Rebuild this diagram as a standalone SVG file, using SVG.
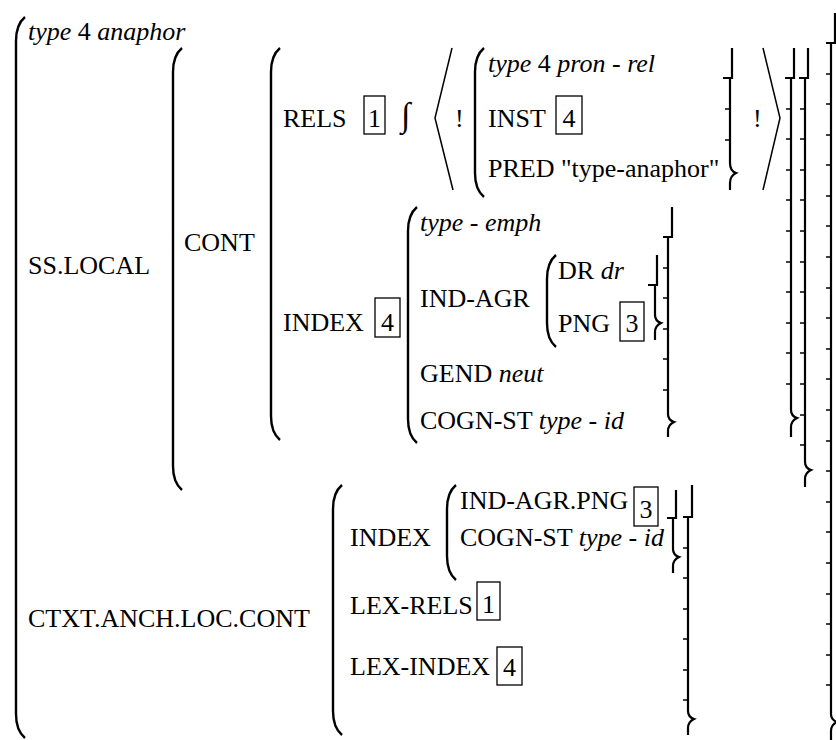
<svg xmlns="http://www.w3.org/2000/svg" width="836" height="740" viewBox="0 0 836 740">
<style>
.f{font-family:'Liberation Serif','Times New Roman',Times,'Noto Serif','DejaVu Serif',Tinos,FreeSerif,'Nimbus Roman','Nimbus Roman No9 L',Georgia,serif;font-size:26px}
.i{font-style:italic}
.m{text-anchor:middle}
.p{fill:none;stroke:#000;stroke-width:2.4;stroke-linecap:butt}
.b{fill:none;stroke:#000;stroke-width:2.2}
.t{fill:none;stroke:#000;stroke-width:1.4}
.box{fill:none;stroke:#000;stroke-width:1.3}
.ang{fill:none;stroke:#000;stroke-width:1.5}
</style>
<rect width="836" height="740" fill="#fff"/>
<g id="brackets">
  <path class="p" d="M25,17 C19,22 16,30 16,41 L16,714 C16,725 19,733 25,738"/>
  <path class="p" d="M182,48 C176,53 173,61 173,72 L173,466 C173,477 176,485 182,490"/>
  <path class="p" d="M280,48 C274,53 271,61 271,72 L271,416 C271,427 274,435 280,440"/>
  <path class="p" d="M484,48 C478,53 475,61 475,72 L475,173 C475,184 478,192 484,197"/>
  <path class="p" d="M417,207 C411,212 408,220 408,231 L408,419 C408,430 411,438 417,443"/>
  <path class="p" d="M556,255 C550,260 547,268 547,279 L547,323 C547,334 550,342 556,347"/>
  <path class="p" d="M342,485 C336,490 333,498 333,509 L333,711 C333,722 336,730 342,735"/>
  <path class="p" d="M456,485 C450,490 447,498 447,509 L447,556 C447,567 450,575 456,580"/>
  <path class="ang" d="M452,48 L435,118 L453,190"/>
  <path class="ang" d="M763,48 L780,118 L763,190"/>
  <path class="b" d="M732,48 L732,78 L723,78 M730,78 L730,163 Q730,171 736,173 Q730,176 730,183 L730,190"/>
  <path class="t" d="M725,109 H730 M725,140 H730"/>
  <path class="b" d="M794,48 L794,78 L785,78 M791,78 L791,410 Q791,416 797,418 Q791,421 791,427 L791,437"/>
  <path class="t" d="M786,109 H791 M786,139 H791 M786,170 H791 M786,200 H791 M786,231 H791 M786,262 H791 M786,292 H791 M786,323 H791 M786,353 H791 M786,384 H791"/>
  <path class="b" d="M808,48 L808,78 L799,78 M805,78 L805,462 Q805,468 811,470 Q805,473 805,479 L805,487"/>
  <path class="t" d="M800,109 H805 M800,139 H805 M800,170 H805 M800,200 H805 M800,231 H805 M800,262 H805 M800,292 H805 M800,323 H805 M800,353 H805 M800,384 H805 M800,415 H805 M800,445 H805"/>
  <path class="b" d="M835,13 L835,43 L826,43 M831,43 L831,714 Q831,720 837,722 Q831,725 831,731 L831,740"/>
  <path class="t" d="M826,74 H831 M826,104 H831 M826,135 H831 M826,165 H831 M826,196 H831 M826,226 H831 M826,257 H831 M826,288 H831 M826,318 H831 M826,349 H831 M826,379 H831 M826,410 H831 M826,441 H831 M826,471 H831 M826,502 H831 M826,532 H831 M826,563 H831 M826,594 H831 M826,624 H831 M826,655 H831 M826,685 H831"/>
  <path class="b" d="M672,207 L672,237 L663,237 M668,237 L668,414 Q668,420 674,422 Q668,425 668,431 L668,437"/>
  <path class="t" d="M663,268 H668 M663,298 H668 M663,329 H668 M663,359 H668 M663,390 H668"/>
  <path class="b" d="M657,255 L657,285 L648,285 M655,285 L655,315 Q655,321 661,323 Q655,326 655,332 L655,340"/>
  <path class="b" d="M676,490 L676,518 L667,518 M673,518 L673,549 Q673,555 679,557 Q673,560 673,566 L673,573"/>
  <path class="b" d="M692,485 L692,517 L683,517 M688,517 L688,711 Q688,717 694,719 Q688,722 688,728 L688,735"/>
  <path class="t" d="M683,548 H688 M683,578 H688 M683,609 H688 M683,639 H688 M683,670 H688 M683,700 H688"/>
</g>
<g class="f" fill="#000">
<g id="avm-top">
  <text x="28" y="40"><tspan class="i">type</tspan> 4 <tspan class="i">anaphor</tspan></text>
</g>
<g id="ss-local">
  <text x="28" y="274">SS.LOCAL</text>
</g>
<g id="cont">
  <text x="184" y="251">CONT</text>
</g>
<g id="rels">
  <text x="283" y="127">RELS</text>
  <rect class="box" x="364" y="96" width="21" height="38"/>
  <text class="m" x="374.5" y="127">1</text>
  <text x="401" y="126" style="font-size:34px">∫</text>
  <text x="455" y="127">!</text>
  <text x="753" y="127">!</text>
</g>
<g id="pron-rel">
  <text x="488" y="72"><tspan class="i">type</tspan> 4 <tspan class="i">pron</tspan> - <tspan class="i">rel</tspan></text>
  <text x="488" y="127">INST</text>
  <rect class="box" x="556" y="96" width="26" height="38"/>
  <text class="m" x="569" y="127">4</text>
  <text x="488" y="177">PRED "type-anaphor"</text>
</g>
<g id="index">
  <text x="283" y="331">INDEX</text>
  <rect class="box" x="375" y="298" width="25" height="39"/>
  <text class="m" x="387.5" y="331">4</text>
</g>
<g id="index-value">
  <text x="420" y="231"><tspan class="i">type</tspan> - <tspan class="i">emph</tspan></text>
  <text x="420" y="307">IND-AGR</text>
  <text x="420" y="382">GEND <tspan class="i">neut</tspan></text>
  <text x="420" y="429">COGN-ST <tspan class="i">type</tspan> - <tspan class="i">id</tspan></text>
</g>
<g id="ind-agr-value">
  <text x="558" y="279">DR <tspan class="i">dr</tspan></text>
  <text x="558" y="332">PNG</text>
  <rect class="box" x="620" y="302" width="24" height="39"/>
  <text class="m" x="632" y="332">3</text>
</g>
<g id="ctxt">
  <text x="28" y="627">CTXT.ANCH.LOC.CONT</text>
</g>
<g id="ctxt-value">
  <text x="350" y="546">INDEX</text>
  <text x="460" y="509">IND-AGR.PNG</text>
  <rect class="box" x="634" y="487" width="24" height="39"/>
  <text class="m" x="646" y="518">3</text>
  <text x="460" y="546">COGN-ST <tspan class="i">type</tspan> - <tspan class="i">id</tspan></text>
  <text x="350" y="614">LEX-RELS</text>
  <rect class="box" x="477" y="582" width="23" height="38"/>
  <text class="m" x="488.5" y="613">1</text>
  <text x="350" y="675">LEX-INDEX</text>
  <rect class="box" x="497" y="647" width="25" height="38"/>
  <text class="m" x="509.5" y="676">4</text>
</g>
</g>
</svg>
